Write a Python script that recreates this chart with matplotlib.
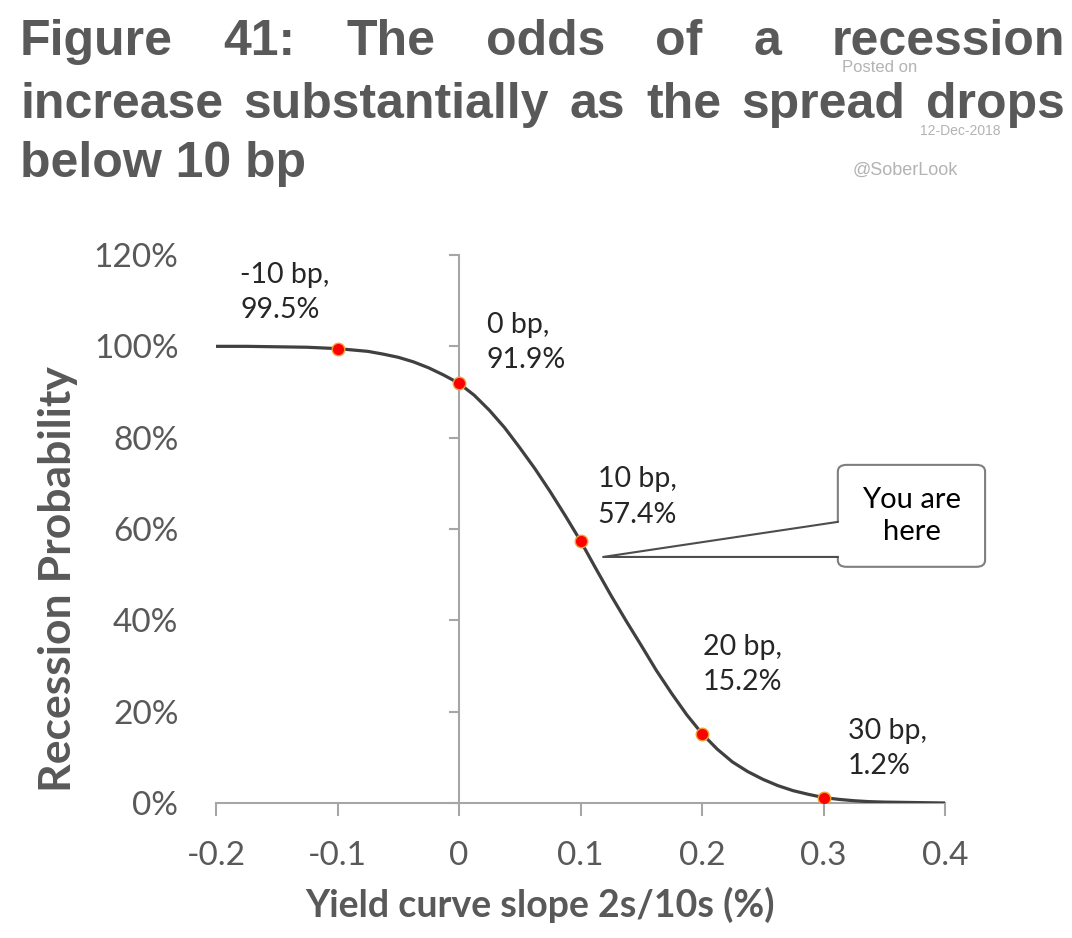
import numpy as np
import matplotlib
matplotlib.use("Agg")
from matplotlib import pyplot as plt
from matplotlib.patches import FancyBboxPatch, Polygon
from matplotlib.ticker import FuncFormatter

# curve (slope in %, probability in %)
curve_x = [-0.2, -0.175, -0.15, -0.125, -0.1, -0.0875, -0.075, -0.0625, -0.05,
           -0.0375, -0.025, -0.0125, 0.0, 0.0125, 0.025, 0.0375, 0.05, 0.0625,
           0.075, 0.0875, 0.1, 0.1125, 0.125, 0.1375, 0.15, 0.1625, 0.175,
           0.1875, 0.2, 0.2125, 0.225, 0.2375, 0.25, 0.2625, 0.275, 0.2875,
           0.3, 0.3125, 0.325, 0.3375, 0.35, 0.375, 0.4]
curve_p = [100.0, 100.0, 99.9, 99.8, 99.5, 99.2, 98.9, 98.3, 97.6,
           96.6, 95.3, 93.7, 91.9, 89.3, 86.0, 82.2, 77.8, 73.2,
           68.2, 62.9, 57.4, 51.4, 45.5, 39.9, 34.5, 29.0, 24.0,
           19.3, 15.2, 11.8, 9.0, 6.9, 5.2, 3.8, 2.7, 1.9,
           1.2, 0.8, 0.5, 0.3, 0.2, 0.1, 0.0]

point_x = [-0.1, 0.0, 0.1, 0.2, 0.3]
point_p = [99.5, 91.9, 57.4, 15.2, 1.2]
point_bp = [-10, 0, 10, 20, 30]
# label offsets in pixels (left edge, vertical centre) from each point
label_dx = [-97, 28, 17, 1, 24]
label_dy = [56, 41, 44, 69, 49]

x_ticks = [-0.2, -0.1, 0, 0.1, 0.2, 0.3, 0.4]
x_ticklabels = ['-0.2', '-0.1', '0', '0.1', '0.2', '0.3', '0.4']
y_ticks = [0, 20, 40, 60, 80, 100, 120]

title_lines = ["Figure 41: The odds of a recession",
               "increase substantially as the spread drops",
               "below 10 bp"]

W, H = 1072, 938
fig = plt.figure(figsize=(W / 100, H / 100), dpi=100)
ax = fig.add_axes([216 / W, 1 - 803 / H, 729 / W, 548 / H])

gray = '#595959'
axis_gray = '#a6a6a6'
txt = '#262626'
font = 'Lato'

ax.plot(curve_x, curve_p, color='#404040', lw=2.3, zorder=3, solid_joinstyle='round')
ax.plot(point_x, point_p, 'o', color='#ff0000', mec='#f0a030', mew=1.0, ms=9, zorder=4)

for x, p, bp, dx, dy in zip(point_x, point_p, point_bp, label_dx, label_dy):
    ax.annotate(f"{bp} bp,\n{p}%", (x, p), xytext=(dx, dy), textcoords='offset pixels',
                ha='left', va='center', fontsize=20.5, family=font, color=txt,
                linespacing=1.45, zorder=5)

ax.set_xlim(-0.2, 0.4)
ax.set_ylim(0, 120)
ax.set_xticks(x_ticks)
ax.set_xticklabels(x_ticklabels)
ax.set_yticks(y_ticks)
ax.yaxis.set_major_formatter(FuncFormatter(lambda v, _: f"{v:.0f}%"))

for s in ['top', 'right']:
    ax.spines[s].set_visible(False)
ax.spines['left'].set_position(('data', 0))
for s in ['left', 'bottom']:
    ax.spines[s].set_color(axis_gray)
    ax.spines[s].set_linewidth(1.5)

ax.tick_params(axis='x', direction='out', length=9, width=1.5, color=axis_gray,
               pad=18, labelsize=24, labelcolor=gray)
ax.tick_params(axis='y', direction='out', length=7, width=1.5, color=axis_gray,
               pad=195, labelsize=24, labelcolor=gray)
for lab in ax.get_xticklabels() + ax.get_yticklabels():
    lab.set_family(font)

fig.text(58 / W, 1 - 579 / H, "Recession Probability", rotation=90, ha='center',
         va='center', fontsize=32, fontweight='bold', family=font, color=gray)
fig.text(540 / W, 1 - 905 / H, "Yield curve slope 2s/10s (%)", ha='center',
         va='center', fontsize=27, fontweight='bold', family=font, color=gray)

# callout "You are here"
box = FancyBboxPatch((0.853, 0.431), 0.202, 0.186, boxstyle='round,pad=0,rounding_size=0.012',
                     transform=ax.transAxes, fc='white', ec='#7f7f7f', lw=1.5,
                     clip_on=False, zorder=6)
ax.add_patch(box)
wedge = Polygon([(0.531, 0.449), (0.856, 0.513), (0.856, 0.449)], closed=True,
                transform=ax.transAxes, fc='white', ec='none', clip_on=False, zorder=7)
ax.add_patch(wedge)
ax.plot([0.853, 0.531, 0.853], [0.513, 0.449, 0.449], transform=ax.transAxes,
        color='#4d4d4d', lw=1.5, clip_on=False, zorder=8)
ax.text(0.954, 0.524, "You are\nhere", transform=ax.transAxes, ha='center', va='center',
        fontsize=21, family=font, color='black', linespacing=1.3, zorder=9)

# watermark (behind the title)
wm = '#b3b3b3'
fig.text(880 / W, 1 - 67 / H, "Posted on", ha='center', va='center', fontsize=12,
         family='Liberation Sans', color=wm, zorder=0)
fig.text(960 / W, 1 - 131 / H, "12-Dec-2018", ha='center', va='center', fontsize=10,
         family='Liberation Sans', color=wm, zorder=0)
fig.text(905 / W, 1 - 170 / H, "@SoberLook", ha='center', va='center', fontsize=13,
         family='Liberation Sans', color=wm, zorder=0)

# justified title
renderer = fig.canvas.get_renderer()
tkw = dict(fontsize=36, fontweight='bold', family='Liberation Sans', color=gray,
           va='baseline', ha='left', zorder=10)
baselines = [55, 118, 177]
x0, x1 = 20 / W, 1065 / W
for i, (line, yb) in enumerate(zip(title_lines, baselines)):
    y = 1 - yb / H
    if i == len(title_lines) - 1:
        fig.text(x0, y, line, **tkw)
        continue
    words = line.split()
    objs = [fig.text(0, y, w, **tkw) for w in words]
    widths = [o.get_window_extent(renderer).width / W for o in objs]
    gap = (x1 - x0 - sum(widths)) / (len(words) - 1)
    xpos = x0
    for o, wd in zip(objs, widths):
        o.set_x(xpos)
        xpos += wd + gap

fig.savefig('out.png', dpi=100, facecolor='white')
